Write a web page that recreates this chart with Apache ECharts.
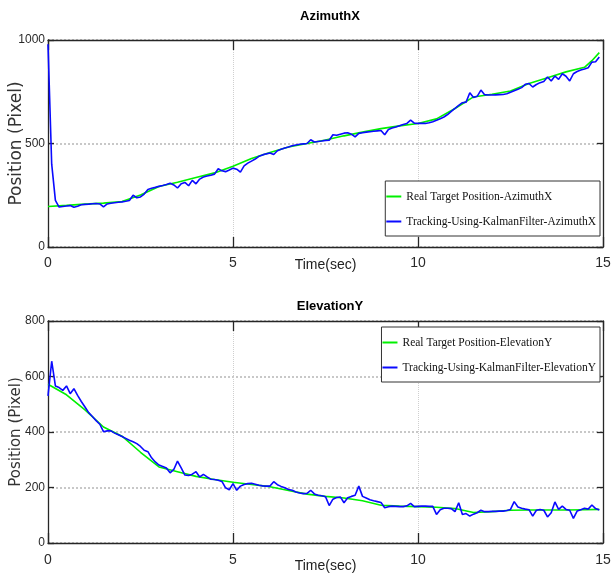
<!DOCTYPE html>
<html>
<head>
<meta charset="utf-8">
<script src="https://cdn.jsdelivr.net/npm/echarts@6/dist/echarts.min.js"></script>
<style>
  html, body { margin: 0; padding: 0; background: #fff; overflow: hidden; }
  #chart { width: 616px; height: 576px; }
</style>
</head>
<body>
<div id="chart"></div>
<script>
// Sample period of the Kalman tracker output (seconds)
const DT = 0.1;

// Shared time axis
const timeTicks = [0, 5, 10, 15];

// Azimuth (X) — real target position (smooth reference path)
const realAzT = [0, 0.5, 1, 1.5, 2, 2.5, 3, 3.5, 4, 4.5, 5, 5.5, 6, 6.5, 7, 7.5,
  8, 8.5, 9, 9.5, 10, 10.5, 11, 11.5, 12, 12.5, 13, 13.5, 14, 14.5, 14.7, 14.9];
const realAz = [196, 201, 207, 212, 220, 251, 292, 313, 336, 358, 390, 428, 457, 483, 500, 517,
  537, 555, 572, 585, 597, 619, 669, 725, 738, 754, 790, 818, 846, 868, 900, 939];

// Azimuth (X) — Kalman filter estimate, one value every DT from t = 0
const trackAz = [
  979, 400, 225, 193, 196, 198, 200, 192, 197, 204,
  206, 207, 209, 210, 208, 194, 208, 211, 214, 216,
  218, 221, 225, 250, 238, 242, 256, 278, 284, 288,
  293, 297, 302, 308, 300, 285, 306, 312, 296, 322,
  305, 328, 338, 343, 347, 352, 378, 368, 364, 372,
  381, 376, 362, 392, 405, 415, 425, 438, 445, 450,
  454, 447, 465, 472, 478, 483, 489, 493, 496, 498,
  500, 518, 507, 510, 512, 515, 516, 542, 540, 545,
  550, 552, 545, 532, 549, 552, 555, 557, 559, 561,
  563, 542, 568, 575, 580, 586, 592, 597, 613, 598,
  597, 597, 597, 600, 605, 612, 620, 628, 640, 655,
  670, 684, 697, 700, 745, 722, 728, 758, 736, 734,
  734, 735, 736, 737, 740, 748, 755, 762, 770, 786,
  790, 773, 785, 794, 800, 821, 802, 826, 810, 837,
  825, 802, 837, 848, 855, 860, 866, 893, 895, 918
];

// Elevation (Y) — real target position
const realElT = [0, 0.5, 1, 1.5, 2, 2.5, 3, 3.5, 4, 4.5, 5, 5.5, 6, 6.5, 7, 7.5,
  8, 8.5, 9, 9.5, 10, 10.5, 11, 11.5, 12, 12.5, 13, 13.5, 14, 14.5, 14.9];
const realEl = [572, 534, 480, 418, 385, 327, 274, 257, 240, 229, 219, 211, 203, 189, 176, 168,
  162, 152, 136, 133, 131, 129, 124, 110, 113, 118, 119, 119, 119, 120, 121];

// Elevation (Y) — Kalman filter estimate, one value every DT from t = 0
const trackEl = [
  530, 655, 566, 560, 550, 566, 538, 556, 532, 510,
  490, 470, 456, 441, 428, 401, 404, 404, 396, 390,
  384, 377, 370, 365, 358, 348, 334, 329, 307, 292,
  281, 276, 270, 253, 265, 295, 271, 245, 243, 248,
  257, 238, 247, 238, 230, 229, 226, 222, 199, 192,
  214, 190, 205, 211, 214, 215, 212, 208, 206, 205,
  205, 221, 210, 204, 199, 193, 190, 184, 180, 178,
  179, 190, 177, 172, 170, 167, 135, 158, 164, 166,
  145, 163, 168, 172, 205, 168, 162, 156, 152, 149,
  146, 127, 131, 133, 132, 131, 131, 134, 143, 131,
  132, 133, 133, 132, 132, 103, 120, 125, 125, 124,
  113, 145, 103, 106, 97, 104, 109, 118, 113, 113,
  114, 114, 115, 115, 117, 121, 149, 130, 125, 122,
  120, 97, 118, 121, 118, 94, 109, 148, 121, 133,
  121, 118, 89, 115, 120, 125, 122, 137, 124, 119
];

const seriesNames = {
  realAz: 'Real Target Position-AzimuthX',
  trackAz: 'Tracking-Using-KalmanFilter-AzimuthX',
  realEl: 'Real Target Position-ElevationY',
  trackEl: 'Tracking-Using-KalmanFilter-ElevationY'
};

const SANS = "'Liberation Sans', Arial, sans-serif";
const GREEN = '#00f000';
const BLUE = '#0a0aff';
const FRAME = '#262626';

const pairUp = (ts, vs) => vs.map((v, i) => [ts[i], v]);
const sampled = vs => vs.map((v, i) => [Math.round(i * DT * 10) / 10, v]);
const plainNumber = v => String(v);

function timeAxis(gridIndex, position, withLabels, nameGap, labelMargin) {
  return {
    type: 'value', gridIndex, position,
    min: timeTicks[0], max: timeTicks[timeTicks.length - 1], interval: 5,
    name: withLabels ? 'Time(sec)' : '',
    nameLocation: 'middle', nameGap, nameMoveOverlap: false,
    nameTextStyle: { fontFamily: SANS, fontSize: 14, color: '#222' },
    axisLine: { show: true, onZero: false, lineStyle: { color: FRAME, width: 1.3 } },
    axisTick: { show: true, inside: true, length: 10, lineStyle: { color: FRAME, width: 1.3 } },
    axisLabel: { show: withLabels, margin: labelMargin, fontFamily: SANS, fontSize: 14,
      color: '#2a2a2a', formatter: plainNumber },
    splitLine: { show: withLabels, lineStyle: { color: '#cfcfcf', type: 'dotted', width: 1 } }
  };
}

function positionAxis(gridIndex, position, max, step, withLabels, nameGap, nameSize) {
  return {
    type: 'value', gridIndex, position, min: 0, max, interval: step,
    name: withLabels ? 'Position (Pixel)' : '',
    nameLocation: 'middle', nameRotate: 90, nameGap, nameMoveOverlap: false,
    nameTextStyle: { fontFamily: "'DejaVu Sans', sans-serif", fontSize: nameSize,
      lineHeight: nameSize, color: '#333' },
    axisLine: { show: true, onZero: false, lineStyle: { color: FRAME, width: 1.3 } },
    axisTick: { show: true, inside: true, length: 6, lineStyle: { color: FRAME, width: 1.3 } },
    axisLabel: { show: withLabels, margin: 3, fontFamily: SANS, fontSize: 12,
      color: '#2a2a2a', formatter: plainNumber },
    splitLine: { show: withLabels, lineStyle: { color: '#c8c8c8', type: 'dotted', width: 2 } }
  };
}

function legendBox(top, names) {
  return {
    orient: 'vertical', right: 16, top,
    data: names,
    icon: 'rect',
    itemWidth: 15, itemHeight: 2, itemGap: 12,
    padding: [9, 4, 8, 1],
    borderColor: '#333', borderWidth: 1, backgroundColor: '#fff',
    textStyle: { fontFamily: "'Liberation Serif', serif", fontSize: 11.5, color: '#111', lineHeight: 13 }
  };
}

function line(name, data, color, xi, yi, z) {
  return {
    type: 'line', name, data, xAxisIndex: xi, yAxisIndex: yi,
    symbol: 'none', z, color,
    itemStyle: { color },
    lineStyle: { color, width: 1.6 }
  };
}

const chart = echarts.init(document.getElementById('chart'), null, { renderer: 'canvas' });

chart.setOption({
  animation: false,
  backgroundColor: '#fff',
  title: [
    { text: 'AzimuthX', left: 330, top: 10, textAlign: 'center', padding: 0,
      textStyle: { fontFamily: SANS, fontWeight: 'bold', fontSize: 13, color: '#000' } },
    { text: 'ElevationY', left: 330, top: 300, textAlign: 'center', padding: 0,
      textStyle: { fontFamily: SANS, fontWeight: 'bold', fontSize: 13, color: '#000' } }
  ],
  grid: [
    { left: 48, right: 13, top: 40, height: 207, outerBoundsMode: 'none' },
    { left: 48, right: 13, top: 321, height: 222, outerBoundsMode: 'none' }
  ],
  xAxis: [
    timeAxis(0, 'bottom', true, 11, 9),
    timeAxis(0, 'top', false, 0, 0),
    timeAxis(1, 'bottom', true, 16, 10),
    timeAxis(1, 'top', false, 0, 0)
  ],
  yAxis: [
    positionAxis(0, 'left', 1000, 500, true, 23, 17),
    positionAxis(0, 'right', 1000, 500, false, 0, 12),
    positionAxis(1, 'left', 800, 200, true, 24, 15),
    positionAxis(1, 'right', 800, 200, false, 0, 12)
  ],
  legend: [
    legendBox(181, [seriesNames.realAz, seriesNames.trackAz]),
    legendBox(327, [seriesNames.realEl, seriesNames.trackEl])
  ],
  series: [
    line(seriesNames.realAz, pairUp(realAzT, realAz), GREEN, 0, 0, 2),
    line(seriesNames.trackAz, sampled(trackAz), BLUE, 0, 0, 3),
    line(seriesNames.realEl, pairUp(realElT, realEl), GREEN, 2, 2, 2),
    line(seriesNames.trackEl, sampled(trackEl), BLUE, 2, 2, 3)
  ]
});
</script>
</body>
</html>
